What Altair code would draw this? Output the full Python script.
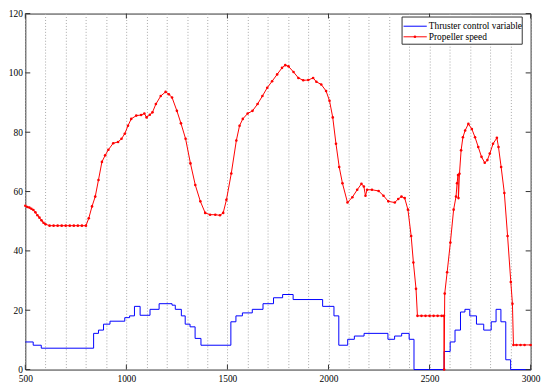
import altair as alt
import pandas as pd

# ---- data ----
red_x = [500, 510, 520, 530, 540, 550, 560, 570, 580, 590, 600, 620, 640, 660, 680, 700,
         720, 740, 760, 780, 800, 814, 830, 846, 862, 879, 895, 911, 935, 959, 976, 992,
         1008, 1024, 1049, 1073, 1089, 1100, 1116, 1129, 1146, 1170, 1194, 1210, 1226,
         1250, 1270, 1293, 1317, 1341, 1366, 1390, 1414, 1440, 1463, 1479, 1495, 1519,
         1544, 1560, 1576, 1600, 1624, 1649, 1673, 1697, 1721, 1746, 1770, 1786, 1802,
         1827, 1851, 1875, 1900, 1924, 1940, 1964, 1988, 2005, 2021, 2037, 2053, 2069,
         2094, 2118, 2142, 2163, 2175, 2183, 2191, 2215, 2248, 2272, 2296, 2328, 2345,
         2361, 2377, 2393, 2409, 2420, 2433, 2440, 2460, 2480, 2500, 2520, 2540, 2560,
         2571, 2572, 2575, 2587, 2603, 2619, 2631, 2636, 2641, 2643, 2648, 2656, 2665,
         2676, 2692, 2709, 2725, 2741, 2757, 2773, 2786, 2798, 2814, 2833, 2841, 2854,
         2870, 2886, 2902, 2910, 2915, 2930, 2950, 2970, 3000]
red_y = [55.2, 54.8, 54.6, 54.2, 53.8, 53.0, 52.0, 51.2, 50.3, 49.5, 49.0, 48.5, 48.5, 48.5,
         48.5, 48.5, 48.5, 48.5, 48.5, 48.5, 48.5, 51.0, 55.0, 58.3, 63.9, 70.0, 72.2, 74.1,
         76.3, 76.7, 77.8, 79.5, 82.2, 84.5, 85.6, 85.8, 86.3, 85.0, 85.9, 86.7, 89.5,
         92.2, 93.6, 92.8, 91.7, 87.2, 83.0, 77.8, 69.5, 62.2, 56.7, 52.8, 52.2, 52.2,
         52.0, 52.8, 57.2, 66.1, 77.2, 82.2, 84.5, 86.3, 87.2, 89.5, 92.2, 95.0, 97.2,
         99.5, 101.7, 102.6, 102.2, 100.3, 98.3, 97.5, 97.6, 98.3, 97.0, 96.1, 93.9, 90.6,
         85.0, 76.1, 68.3, 62.8, 56.3, 58.1, 60.6, 62.6, 61.7, 58.6, 60.6, 60.6, 60.2,
         58.6, 56.7, 56.3, 57.5, 58.3, 57.8, 53.9, 45.0, 36.1, 27.2, 18.1, 18.1, 18.1,
         18.1, 18.1, 18.1, 18.1, 18.1, 0.0, 25.6, 32.8, 42.8, 53.9, 58.3, 62.8, 65.6,
         57.8, 66.0, 73.9, 78.3, 80.6, 82.8, 81.1, 78.3, 75.0, 71.7, 69.7, 70.6, 72.8,
         76.1, 78.1, 75.0, 68.3, 59.5, 45.0, 29.5, 22.2, 8.3, 8.3, 8.3, 8.3, 8.3]

blue_x = [500, 539, 579, 838, 862, 887, 919, 992, 1016, 1040, 1068, 1117, 1162, 1226, 1242,
          1272, 1291, 1315, 1340, 1369, 1517, 1542, 1574, 1623, 1676, 1728, 1773, 1825,
          1971, 2027, 2051, 2095, 2128, 2176, 2294, 2327, 2362, 2399, 2423, 2572, 2602,
          2626, 2653, 2675, 2699, 2732, 2768, 2805, 2829, 2853, 2877, 2901, 3000]
blue_y = [9.3, 8.2, 7.2, 12.2, 13.3, 15.3, 16.3, 17.5, 18.1, 21.3, 18.3, 20.3, 22.2, 21.7,
          20.3, 18.1, 15.3, 14.4, 10.5, 8.2, 16.1, 18.1, 19.1, 20.3, 22.2, 24.2, 25.3,
          23.6, 21.3, 18.1, 8.2, 10.2, 11.3, 12.2, 10.2, 11.3, 12.2, 10.2, 0.0, 6.1, 9.3,
          13.3, 19.4, 20.3, 18.1, 15.3, 13.3, 16.1, 20.3, 16.1, 3.3, 0.0, 0.0]

x_ticks = [500, 1000, 1500, 2000, 2500, 3000]
y_ticks = [0, 20, 40, 60, 80, 100, 120]
grid_x = [500, 600, 700, 800, 900, 1000, 1100, 1200, 1300, 1400, 1500, 1600, 1700, 1800,
          1900, 2000, 2100, 2200, 2300, 2400, 2500, 2600, 2700, 2800, 2900, 3000]
legend_labels = ["Thruster control variable", "Propeller speed"]

# ---- styling ----
W, H = 511, 360
FONT = "Liberation Serif"
FS = 9.5
FRAME = "#333333"
BLUE = "#0000ff"
RED = "#ff0000"
LX = W - 130  # legend box left edge (plot coords)

xs = alt.Scale(domain=[500, 3000], nice=False, zero=False)
ys = alt.Scale(domain=[0, 120], nice=False)

x_axis = alt.Axis(values=grid_x, grid=True, gridDash=[1, 2], gridColor="#a8a8a8",
                  gridWidth=1, ticks=False, domain=False, format="d",
                  labelExpr="datum.value % 500 == 0 ? datum.label : ''",
                  labelFont=FONT, labelFontSize=FS, labelColor="black",
                  labelPadding=4, labelFlush=False, labelOverlap=False, title=None)
y_axis = alt.Axis(values=y_ticks, grid=False, ticks=False, domain=False,
                  labelFont=FONT, labelFontSize=FS, labelColor="black",
                  labelPadding=3, labelOverlap=False, title=None)

red_df = pd.DataFrame({"x": red_x, "y": red_y})
blue_df = pd.DataFrame({"x": blue_x, "y": blue_y})

X = alt.X("x:Q", scale=xs, axis=x_axis)
Y = alt.Y("y:Q", scale=ys, axis=y_axis)

blue_line = alt.Chart(blue_df).mark_line(
    interpolate="step-after", color=BLUE, strokeWidth=1
).encode(x=X, y=Y)

red_line = alt.Chart(red_df).mark_line(
    color=RED, strokeWidth=1,
    point=alt.OverlayMarkDef(filled=True, size=7, color=RED)
).encode(x=X, y=Y)

xt_df = pd.DataFrame({"x": x_ticks})
yt_df = pd.DataFrame({"y": y_ticks})

xt_bottom = alt.Chart(xt_df).mark_rule(color=FRAME).encode(
    x=X, y=alt.value(H), y2=alt.value(H - 5))
xt_top = alt.Chart(xt_df).mark_rule(color=FRAME).encode(
    x=X, y=alt.value(0), y2=alt.value(5))
yt_left = alt.Chart(yt_df).mark_rule(color=FRAME).encode(
    y=Y, x=alt.value(0), x2=alt.value(5))
yt_right = alt.Chart(yt_df).mark_rule(color=FRAME).encode(
    y=Y, x=alt.value(W), x2=alt.value(W - 5))

one = pd.DataFrame({"k": [0]})
leg_box = alt.Chart(one).mark_rect(fill="white", stroke=FRAME, strokeWidth=1).encode(
    x=alt.value(LX), x2=alt.value(LX + 121.5), y=alt.value(3.5), y2=alt.value(31))
leg_l1 = alt.Chart(one).mark_rule(color=BLUE, strokeWidth=1).encode(
    x=alt.value(LX + 1.5), x2=alt.value(LX + 25), y=alt.value(12.8))
leg_l2 = alt.Chart(one).mark_rule(color=RED, strokeWidth=1).encode(
    x=alt.value(LX + 1.5), x2=alt.value(LX + 25), y=alt.value(23.5))
leg_dot = alt.Chart(one).mark_point(filled=True, size=7, color=RED, opacity=1).encode(
    x=alt.value(LX + 13), y=alt.value(23.5))
leg_t1 = alt.Chart(one).mark_text(align="left", baseline="middle", font=FONT,
                                  fontSize=FS, color="black").encode(
    x=alt.value(LX + 27), y=alt.value(12.8), text=alt.value(legend_labels[0]))
leg_t2 = alt.Chart(one).mark_text(align="left", baseline="middle", font=FONT,
                                  fontSize=FS, color="black").encode(
    x=alt.value(LX + 27), y=alt.value(23.5), text=alt.value(legend_labels[1]))

chart = alt.layer(
    blue_line, red_line, xt_bottom, xt_top, yt_left, yt_right,
    leg_box, leg_l1, leg_l2, leg_dot, leg_t1, leg_t2
).properties(
    width=W, height=H,
    autosize=alt.AutoSizeParams(type="none"),
    padding={"left": 17.5, "top": 3.5, "right": 11.5, "bottom": 14},
    background="white",
).configure_view(stroke=FRAME, strokeWidth=1)

chart.save("out.html", embed_options={"renderer": "svg", "actions": False})
